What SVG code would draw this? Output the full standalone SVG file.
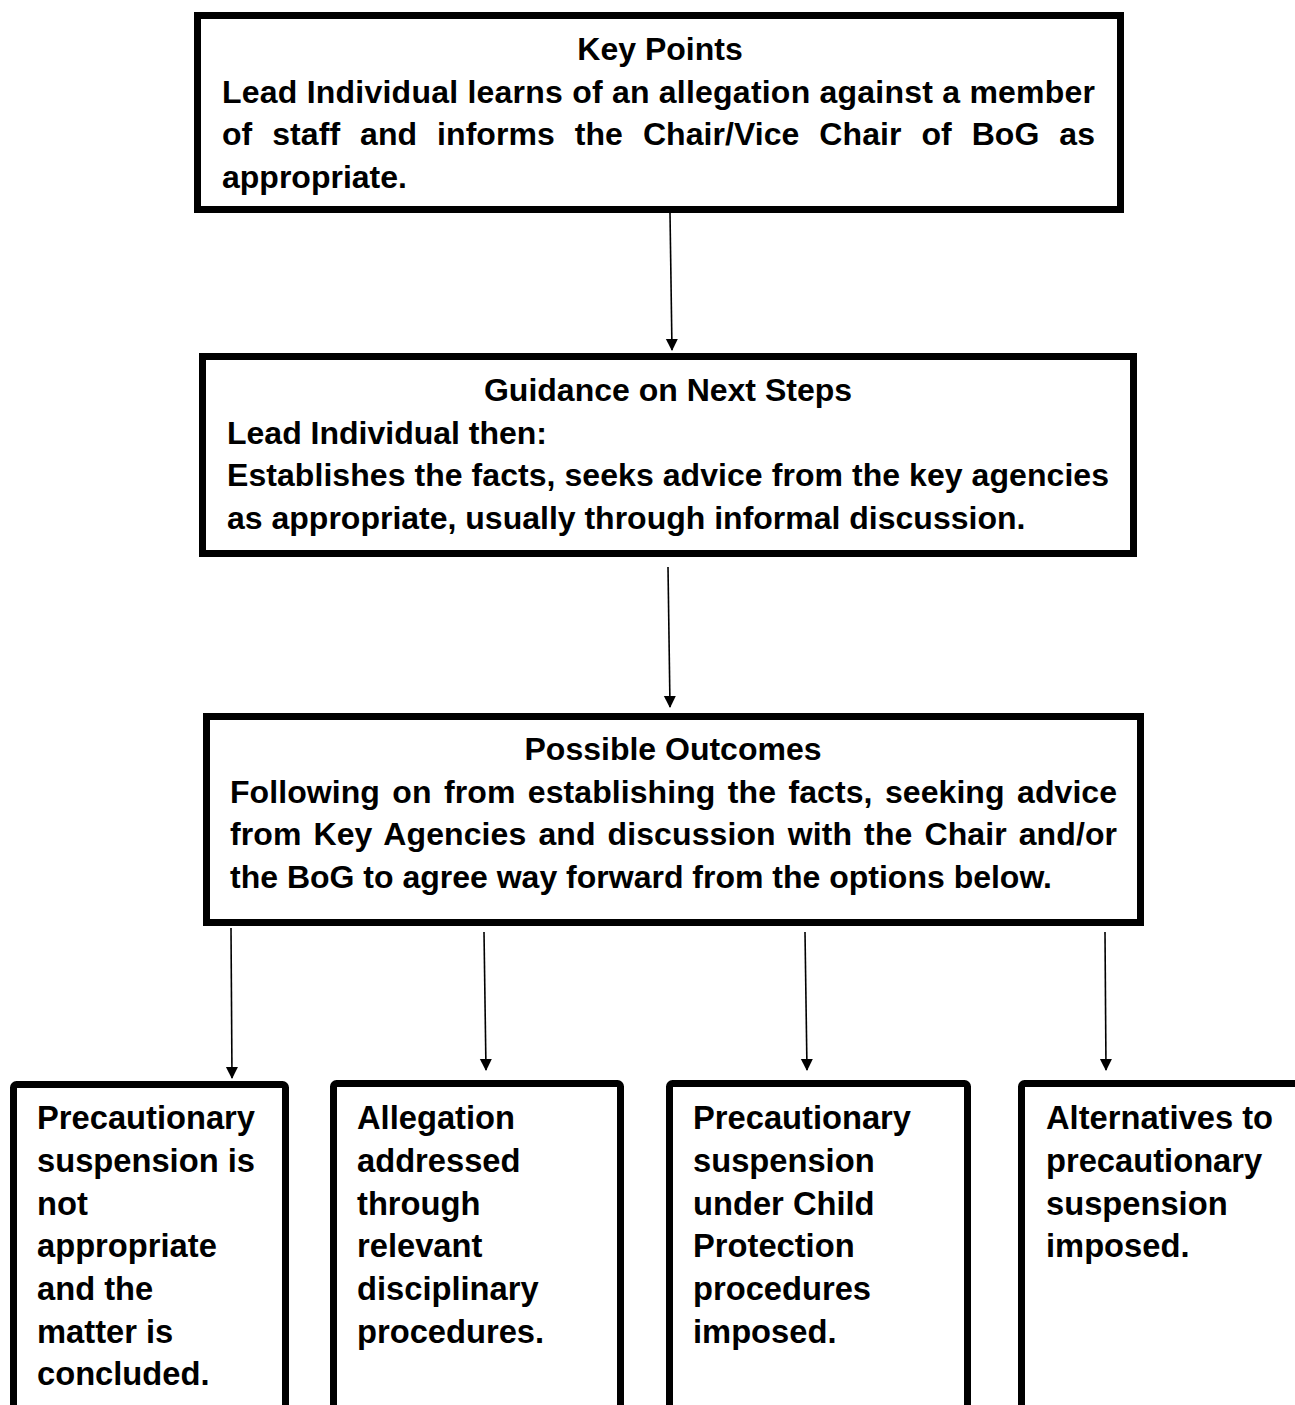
<svg xmlns="http://www.w3.org/2000/svg" width="1295" height="1405" viewBox="0 0 1295 1405">
<defs>
<marker id="arr" markerWidth="12" markerHeight="14" refX="11" refY="6" orient="auto" markerUnits="userSpaceOnUse" viewBox="0 0 12 12">
<path d="M0,0 L12,6 L0,12 Z" fill="#000"/>
</marker>
</defs>
<style>
.box{fill:#fff;stroke:#000;stroke-width:7}
.t{font-family:"Liberation Sans",Arial,sans-serif;font-weight:bold;font-size:32px;fill:#000}
.s{font-size:32.7px}
.h{text-anchor:middle}
.c{stroke:#000;stroke-width:1.6;fill:none;marker-end:url(#arr)}
</style>
<rect width="1295" height="1405" fill="#fff"/>
<g id="connectors">
<line class="c" x1="670" y1="213" x2="672" y2="350"/>
<line class="c" x1="668" y1="567" x2="670" y2="707"/>
<line class="c" x1="231" y1="928" x2="232" y2="1078"/>
<line class="c" x1="484" y1="932" x2="486" y2="1070"/>
<line class="c" x1="805" y1="932" x2="807" y2="1070"/>
<line class="c" x1="1105" y1="932" x2="1106" y2="1070"/>
</g>
<g id="key-points">
<rect class="box" x="197.5" y="15.5" width="923" height="194"/>
<text class="t h" x="660" y="60">Key Points</text>
<text class="t" x="222" y="103" textLength="873" lengthAdjust="spacing">Lead Individual learns of an allegation against a member</text>
<text class="t" x="222" y="145" word-spacing="11" textLength="873" lengthAdjust="spacing">of staff and informs the Chair/Vice Chair of BoG as</text>
<text class="t" x="222" y="188">appropriate.</text>
</g>
<g id="guidance">
<rect class="box" x="202.5" y="356.5" width="931" height="197"/>
<text class="t h" x="668" y="401">Guidance on Next Steps</text>
<text class="t" x="227" y="444">Lead Individual then:</text>
<text class="t" x="227" y="486" textLength="882" lengthAdjust="spacing">Establishes the facts, seeks advice from the key agencies</text>
<text class="t" x="227" y="529">as appropriate, usually through informal discussion.</text>
</g>
<g id="outcomes">
<rect class="box" x="206.5" y="716.5" width="934" height="206"/>
<text class="t h" x="673" y="760">Possible Outcomes</text>
<text class="t" x="230" y="803" word-spacing="3.5" textLength="887" lengthAdjust="spacing">Following on from establishing the facts, seeking advice</text>
<text class="t" x="230" y="845" word-spacing="3" textLength="887" lengthAdjust="spacing">from Key Agencies and discussion with the Chair and/or</text>
<text class="t" x="230" y="888">the BoG to agree way forward from the options below.</text>
</g>
<g id="outcome-1">
<rect class="box" x="13.5" y="1084.5" width="272" height="400" rx="3"/>
<text class="t s" x="37" y="1129">Precautionary</text>
<text class="t s" x="37" y="1172">suspension is</text>
<text class="t s" x="37" y="1215">not</text>
<text class="t s" x="37" y="1257">appropriate</text>
<text class="t s" x="37" y="1300">and the</text>
<text class="t s" x="37" y="1343">matter is</text>
<text class="t s" x="37" y="1385">concluded.</text>
</g>
<g id="outcome-2">
<rect class="box" x="333.5" y="1083.5" width="287" height="400" rx="3"/>
<text class="t s" x="357" y="1129">Allegation</text>
<text class="t s" x="357" y="1172">addressed</text>
<text class="t s" x="357" y="1215">through</text>
<text class="t s" x="357" y="1257">relevant</text>
<text class="t s" x="357" y="1300">disciplinary</text>
<text class="t s" x="357" y="1343">procedures.</text>
</g>
<g id="outcome-3">
<rect class="box" x="669.5" y="1083.5" width="298" height="400" rx="3"/>
<text class="t s" x="693" y="1129">Precautionary</text>
<text class="t s" x="693" y="1172">suspension</text>
<text class="t s" x="693" y="1215">under Child</text>
<text class="t s" x="693" y="1257">Protection</text>
<text class="t s" x="693" y="1300">procedures</text>
<text class="t s" x="693" y="1343">imposed.</text>
</g>
<g id="outcome-4">
<rect class="box" x="1021.5" y="1083.5" width="290" height="400" rx="3"/>
<text class="t s" x="1046" y="1129">Alternatives to</text>
<text class="t s" x="1046" y="1172">precautionary</text>
<text class="t s" x="1046" y="1215">suspension</text>
<text class="t s" x="1046" y="1257">imposed.</text>
</g>
</svg>
